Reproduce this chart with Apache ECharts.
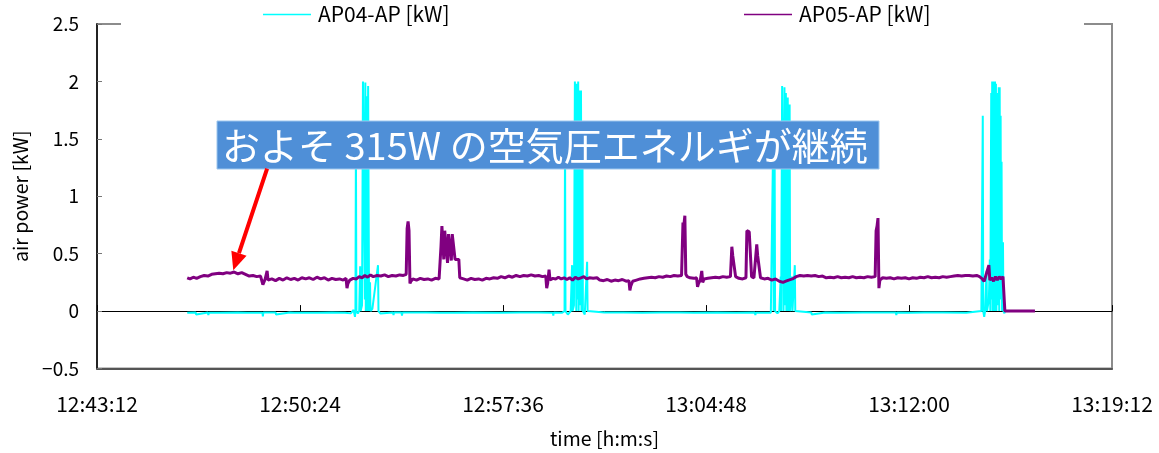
<!DOCTYPE html>
<html><head><meta charset="utf-8">
<script src="https://cdn.jsdelivr.net/npm/echarts@6/dist/echarts.min.js"></script>
<style>html,body{margin:0;padding:0;background:#fff}#c{width:1159px;height:453px}</style>
</head><body><div id="c"></div>
<script>
// time axis: seconds after 12:43:12
const clockStart = 12*3600 + 43*60 + 12;
const xMin = 0, xMax = 2160, xStep = 432;
const yMin = -0.5, yMax = 2.5, yStep = 0.5;
const seriesNames = ['AP04-AP [kW]', 'AP05-AP [kW]'];
const annotationText = 'およそ 315W の空気圧エネルギが継続';

// AP04 (cyan)
const ap04Time = [192,210,211,212,236,237,238,262,263,264,300,320,321,322,352,353,354,380,381,382,410,420,421,422,470,471,472,500,501,502,528,540,546,549,550,551,552,555,558,560,561,564,566,569,570,571,572,574,575,577,578,579,581,582,586,598,599,603,604,630,631,632,648,649,650,700,730,731,732,760,761,762,800,801,802,858,859,860,900,901,902,940,970,971,972,990,995,996,997,1002,1008,1011,1012,1015,1017,1019,1020,1021,1022,1024,1025,1027,1028,1030,1031,1033,1034,1038,1043,1044,1048,1080,1081,1082,1120,1121,1122,1160,1161,1162,1200,1201,1202,1240,1241,1242,1270,1271,1272,1320,1321,1322,1360,1361,1362,1400,1401,1402,1434,1438,1439,1440,1442,1443,1448,1452,1455,1456,1458,1460,1461,1463,1464,1466,1467,1470,1471,1474,1475,1479,1480,1485,1486,1490,1520,1521,1522,1550,1551,1552,1580,1581,1582,1630,1631,1632,1700,1701,1702,1730,1731,1732,1760,1761,1762,1800,1801,1802,1850,1851,1852,1882,1885,1886,1888,1890,1893,1894,1898,1900,1901,1903,1904,1905,1906,1907,1908,1909,1910,1911,1912,1913,1914,1915,1916,1917,1918,1919,1920,1921,1922,1923,1924,1925,1926,1928,1929,1931,1932];
const ap04Power = [-0.014,-0.012,-0.03,-0.013,-0.012,-0.035,-0.014,-0.014,-0.03,-0.012,-0.013,-0.014,0.0,-0.013,-0.014,-0.045,-0.013,-0.012,-0.03,-0.014,-0.012,-0.014,-0.025,-0.013,-0.014,-0.03,-0.012,-0.013,0.0,-0.014,-0.014,-0.02,0.01,-0.05,0.0,1.5,0.0,-0.02,0.0,0.39,0.0,0.05,2.0,2.0,0.1,1.99,0.0,1.87,0.0,1.96,1.95,0.0,0.25,0.0,0.02,0.4,0.0,-0.02,-0.012,-0.013,-0.035,-0.012,-0.013,-0.04,-0.013,-0.012,-0.014,-0.025,-0.012,-0.014,-0.025,-0.013,-0.013,-0.03,-0.012,-0.014,-0.03,-0.013,-0.012,0.0,-0.014,-0.012,-0.014,-0.04,-0.012,-0.014,0.0,1.5,0.0,-0.03,0.0,0.40,0.0,0.05,2.0,2.0,0.0,1.98,0.1,2.0,0.0,1.92,0.05,1.92,0.0,1.6,0.0,-0.03,0.43,0.0,-0.014,-0.012,-0.025,-0.013,-0.013,-0.03,-0.012,-0.014,-0.02,-0.013,-0.012,0.0,-0.014,-0.013,-0.03,-0.012,-0.014,-0.03,-0.013,-0.012,-0.02,-0.014,-0.014,-0.02,-0.012,-0.013,-0.035,-0.014,-0.014,0.0,1.5,0.0,1.45,0.0,-0.02,0.0,0.3,0.0,1.96,1.96,0.0,1.95,0.05,1.9,0.0,1.86,0.0,1.8,0.0,0.3,0.0,0.4,0.0,-0.014,-0.012,-0.03,-0.013,-0.013,-0.02,-0.012,-0.014,-0.02,-0.013,-0.012,-0.025,-0.014,-0.013,-0.035,-0.012,-0.014,-0.02,-0.013,-0.012,-0.02,-0.014,-0.013,-0.025,-0.012,-0.014,-0.03,-0.013,0.0,1.70,0.0,-0.05,0.0,0.35,0.0,0.1,0.45,0.0,1.9,0.1,2.0,0.0,2.0,0.05,2.0,0.0,2.0,0.1,1.98,0.0,1.9,0.05,1.85,0.1,1.95,0.0,1.95,0.2,1.7,0.1,1.3,0.0,0.6,0.0,-0.02,0.0];

// AP05 (purple)
const ap05Time = [192,198,205,212,220,228,236,244,252,260,268,276,284,292,300,308,316,324,332,340,348,352,353,355,358,362,364,372,380,388,396,404,412,420,428,436,444,452,460,468,476,484,492,500,508,516,524,530,532,534,538,545,552,558,564,570,576,582,588,596,604,612,620,628,636,644,652,658,660,662,664,666,668,672,680,688,696,704,712,720,728,730,732,734,736,738,740,744,746,748,752,754,756,760,762,764,770,772,776,780,788,796,804,812,820,828,836,844,852,860,868,876,884,892,900,908,916,924,932,940,948,955,957,959,962,964,970,976,982,988,994,1000,1006,1012,1018,1024,1030,1036,1042,1048,1056,1064,1070,1078,1086,1094,1102,1110,1118,1126,1132,1134,1136,1140,1148,1156,1164,1172,1180,1188,1196,1204,1212,1220,1228,1236,1244,1246,1247,1249,1251,1253,1256,1262,1270,1276,1278,1280,1284,1287,1289,1292,1300,1308,1316,1324,1332,1340,1348,1350,1351,1353,1357,1359,1366,1374,1381,1383,1388,1391,1393,1398,1402,1404,1406,1410,1412,1420,1428,1436,1444,1452,1460,1466,1472,1480,1488,1496,1504,1512,1520,1528,1536,1544,1552,1560,1568,1576,1584,1592,1600,1608,1616,1624,1632,1640,1648,1656,1658,1660,1662,1664,1666,1672,1680,1688,1696,1704,1712,1720,1728,1736,1744,1752,1760,1768,1776,1784,1792,1800,1808,1816,1824,1832,1840,1848,1856,1864,1872,1878,1882,1884,1888,1892,1898,1900,1904,1908,1912,1916,1920,1924,1928,1931,1932,1996];
const ap05Power = [0.29,0.28,0.295,0.285,0.30,0.31,0.305,0.32,0.325,0.33,0.325,0.335,0.33,0.34,0.325,0.335,0.32,0.305,0.31,0.30,0.305,0.29,0.23,0.25,0.28,0.35,0.27,0.28,0.265,0.285,0.27,0.29,0.275,0.285,0.27,0.29,0.28,0.29,0.275,0.295,0.28,0.29,0.27,0.285,0.275,0.28,0.27,0.285,0.20,0.24,0.27,0.285,0.28,0.30,0.29,0.31,0.295,0.315,0.30,0.31,0.305,0.315,0.30,0.31,0.305,0.315,0.31,0.32,0.72,0.78,0.70,0.24,0.26,0.28,0.27,0.285,0.275,0.28,0.27,0.285,0.28,0.29,0.56,0.74,0.73,0.45,0.70,0.69,0.42,0.67,0.67,0.44,0.67,0.66,0.45,0.46,0.45,0.29,0.28,0.28,0.27,0.285,0.275,0.28,0.27,0.285,0.28,0.29,0.285,0.30,0.29,0.305,0.295,0.31,0.30,0.31,0.305,0.315,0.305,0.31,0.30,0.305,0.20,0.24,0.36,0.27,0.285,0.28,0.295,0.28,0.29,0.275,0.29,0.27,0.295,0.28,0.29,0.30,0.28,0.29,0.285,0.29,0.27,0.265,0.275,0.26,0.27,0.265,0.275,0.26,0.265,0.18,0.22,0.26,0.27,0.28,0.285,0.29,0.295,0.29,0.30,0.295,0.305,0.30,0.31,0.305,0.31,0.32,0.77,0.75,0.83,0.32,0.30,0.29,0.285,0.29,0.21,0.24,0.27,0.35,0.25,0.28,0.285,0.29,0.295,0.29,0.30,0.295,0.30,0.31,0.56,0.48,0.48,0.30,0.285,0.28,0.29,0.70,0.69,0.70,0.30,0.29,0.30,0.58,0.48,0.48,0.29,0.28,0.285,0.27,0.28,0.26,0.25,0.26,0.27,0.28,0.30,0.31,0.305,0.31,0.305,0.31,0.30,0.305,0.29,0.295,0.29,0.30,0.29,0.295,0.29,0.30,0.29,0.295,0.29,0.30,0.295,0.30,0.70,0.74,0.81,0.20,0.27,0.29,0.285,0.29,0.28,0.29,0.285,0.29,0.28,0.29,0.285,0.295,0.29,0.30,0.29,0.295,0.29,0.30,0.295,0.30,0.305,0.31,0.305,0.31,0.31,0.305,0.31,0.30,0.31,0.28,0.26,0.27,0.40,0.27,0.29,0.26,0.30,0.27,0.30,0.28,0.30,0.30,0.0,0.0];

// annotation anchors in data units [seconds, kW]
const arrowTail = [362, 1.24];
const arrowTip = [290, 0.355];

const zip = (t, v) => t.map((x, i) => [x, v[i]]);
const pad = n => String(n).padStart(2, '0');
const clock = v => { const s = clockStart + Math.round(v); return Math.floor(s/3600) + ':' + pad(Math.floor(s%3600/60)) + ':' + pad(s%60); };
const FONT = '"Noto Sans CJK JP", "Noto Sans", sans-serif';

const chart = echarts.init(document.getElementById('c'));
const legendBase = { top: 4, padding: 0, icon: 'rect', itemWidth: 48, itemHeight: 1.5, itemGap: 10,
  textStyle: { fontSize: 21, fontFamily: FONT, color: '#000', padding: [0, 0, 0, 2] } };
chart.setOption({
  animation: false,
  backgroundColor: '#fff',
  textStyle: { fontFamily: FONT, color: '#000' },
  grid: { left: 97, right: 47, top: 24, bottom: 82, show: true, borderColor: '#8c8c8c', borderWidth: 2, backgroundColor: 'transparent' },
  legend: [
    Object.assign({ data: [seriesNames[0]], left: 263 }, legendBase),
    Object.assign({ data: [seriesNames[1]], left: 744 }, legendBase)
  ],
  xAxis: [
    { type: 'value', min: xMin, max: xMax, interval: xStep, position: 'bottom',
      axisLine: { onZero: true, lineStyle: { color: '#000', width: 1 } },
      axisTick: { inside: true, length: 6, lineStyle: { color: '#000' } },
      axisLabel: { show: false }, splitLine: { show: false } },
    { type: 'value', min: xMin, max: xMax, interval: xStep, position: 'bottom',
      axisLine: { onZero: false, show: true, lineStyle: { color: '#555', width: 2 } },
      axisTick: { show: false }, splitLine: { show: false },
      axisLabel: { fontSize: 21, color: '#000', margin: 25, formatter: clock, fontFamily: FONT },
      name: 'time [h:m:s]', nameLocation: 'middle', nameGap: 60,
      nameTextStyle: { fontSize: 19.5, color: '#000', fontFamily: FONT } }
  ],
  yAxis: { type: 'value', min: yMin, max: yMax, interval: yStep,
    axisLine: { show: true, onZero: false, lineStyle: { color: '#000', width: 1.5 } },
    axisTick: { show: true, inside: true, length: 5, lineStyle: { color: '#777' } },
    splitLine: { show: false },
    axisLabel: { fontSize: 19, color: '#000', margin: 18, fontFamily: FONT, formatter: v => v < 0 ? '\u2212' + Math.abs(v) : String(v) },
    name: 'air power [kW]', nameLocation: 'middle', nameGap: 67, nameRotate: 90,
    nameTextStyle: { fontSize: 19.5, color: '#000', fontFamily: FONT } },
  series: [
    { name: seriesNames[0], type: 'line', xAxisIndex: 0, data: zip(ap04Time, ap04Power), symbol: 'none', color: '#00ffff', lineStyle: { color: '#00ffff', width: 2 } },
    { name: seriesNames[1], type: 'line', xAxisIndex: 0, data: zip(ap05Time, ap05Power), symbol: 'none', color: '#800080', lineStyle: { color: '#800080', width: 3 } }
  ]
});

const tail = chart.convertToPixel({ gridIndex: 0 }, arrowTail);
const tip = chart.convertToPixel({ gridIndex: 0 }, arrowTip);
const dx = tip[0] - tail[0], dy = tip[1] - tail[1], len = Math.hypot(dx, dy);
const ux = dx / len, uy = dy / len, headL = 18, headW = 8;
const bx = tip[0] - ux * headL, by = tip[1] - uy * headL;

chart.setOption({
  graphic: [
    { type: 'rect', z: 2, shape: { x: 121, y: 21, width: 963, height: 6 }, style: { fill: '#fff' }, silent: true },
    { type: 'rect', z: 50, shape: { x: 217, y: 121, width: 662, height: 48 }, style: { fill: '#4f8fd7', stroke: '#9cc6ee', lineWidth: 1 } },
    { type: 'text', z: 51, style: { text: annotationText, x: 222, y: 146, fill: '#fff', fontSize: 38, fontFamily: FONT, verticalAlign: 'middle' } },
    { type: 'line', z: 52, shape: { x1: tail[0], y1: tail[1], x2: bx, y2: by }, style: { stroke: '#ff0000', lineWidth: 4 } },
    { type: 'polygon', z: 52, shape: { points: [[tip[0], tip[1]], [bx - uy * headW, by + ux * headW], [bx + uy * headW, by - ux * headW]] }, style: { fill: '#ff0000' } }
  ]
});
</script>
</body></html>
